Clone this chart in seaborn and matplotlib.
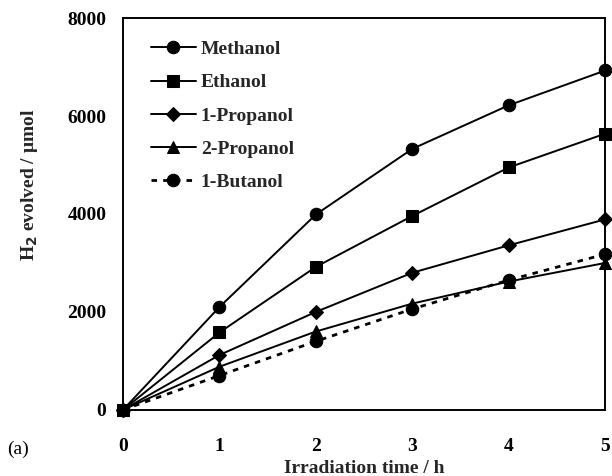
import matplotlib
matplotlib.use("Agg")
import matplotlib.pyplot as plt
import seaborn as sns
import pandas as pd

time_h = [0, 1, 2, 3, 4, 5]
methanol = [0, 2100, 3990, 5330, 6220, 6930]
ethanol = [0, 1580, 2920, 3960, 4950, 5640]
propanol1 = [0, 1120, 2000, 2800, 3360, 3890]
propanol2 = [0, 880, 1600, 2170, 2620, 3000]
butanol1 = [0, 700, 1400, 2060, 2650, 3180]

series_names = ["Methanol", "Ethanol", "1-Propanol", "2-Propanol", "1-Butanol"]
series_vals = [methanol, ethanol, propanol1, propanol2, butanol1]
markers = ["o", "s", "D", "^", "o"]
msizes = [9, 9, 7, 9, 9]
styles = ["-", "-", "-", "-", (0, (2, 2.2))]

sns.set_theme(style="white")
plt.rcParams["font.family"] = ["Liberation Serif", "DejaVu Serif"]
plt.rcParams["font.weight"] = "bold"

fig = plt.figure(figsize=(6.12, 4.76), dpi=100)
ax = fig.add_axes([0.201, 0.139, 0.788, 0.823])

for name, vals, m, ms, ls in zip(series_names, series_vals, markers, msizes, styles):
    df = pd.DataFrame({"t": time_h, "v": vals})
    sns.lineplot(data=df, x="t", y="v", ax=ax, color="black", marker=m,
                 markersize=ms, markeredgecolor="black", linestyle=ls,
                 linewidth=1.4 if ls == "-" else 2.0, label=name, clip_on=False,
                 zorder=3)

ax.set_xlim(0, 5)
ax.set_ylim(0, 8000)
ax.set_xticks([0, 1, 2, 3, 4, 5])
ax.set_yticks([0, 2000, 4000, 6000, 8000])
ax.tick_params(axis="both", direction="in", length=6, width=1.2, colors="black",
               labelsize=14)
ax.tick_params(axis="x", pad=20)
ax.tick_params(axis="y", pad=12)
for lab in ax.get_xticklabels() + ax.get_yticklabels():
    lab.set_fontweight("bold")
for s in ax.spines.values():
    s.set_color("black")
    s.set_linewidth(1.4)

ax.set_xlabel("Irradiation time / h", fontsize=14, fontweight="bold", labelpad=4)
ax.set_ylabel("H$_\\mathbf{2}$ evolved / \u03bcmol", fontsize=14, fontweight="bold")
ax.yaxis.set_label_coords(-0.172, 0.574)

leg = ax.legend(loc="upper left", frameon=False, fontsize=14, handlelength=2.3,
                labelspacing=0.8, handletextpad=0.25, borderaxespad=0.6,
                bbox_to_anchor=(0.018, 0.992))
for t in leg.get_texts():
    t.set_fontweight("bold")

fig.text(0.011, 0.046, "(a)", fontsize=14, fontweight="normal", color="black")

fig.savefig("out.png", dpi=100)
